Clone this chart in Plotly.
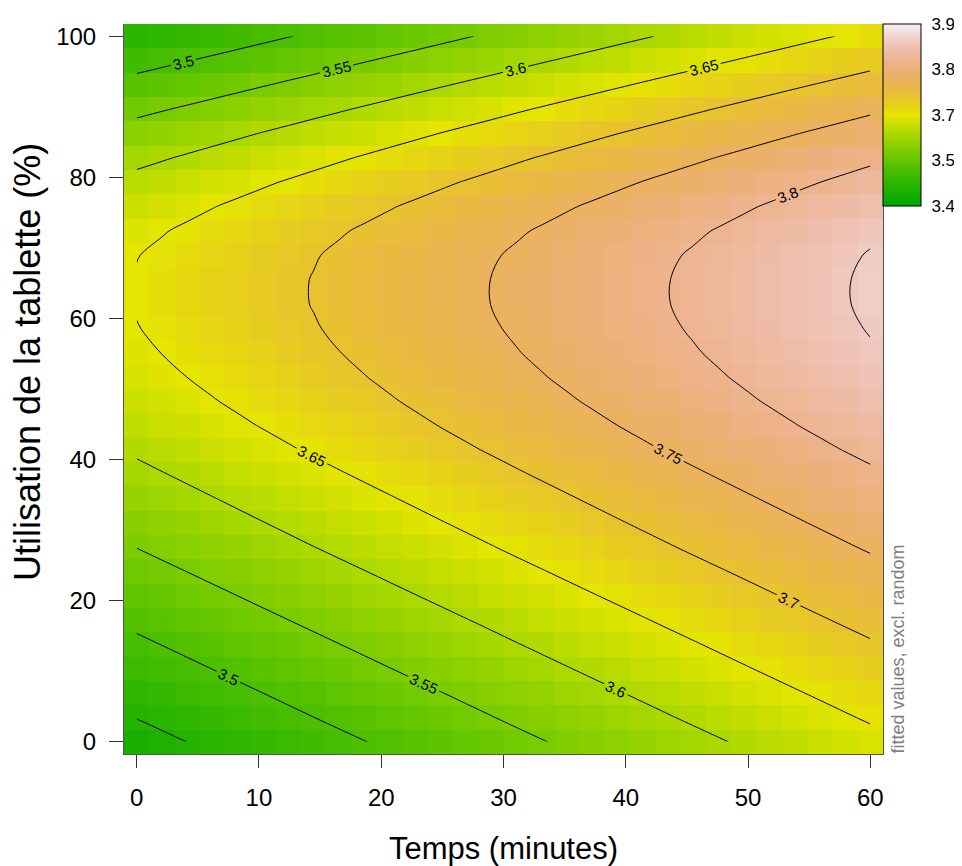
import colorsys
import plotly.graph_objects as go

# ---- data ----
time_grid = [0, 2.07, 4.14, 6.21, 8.28, 10.34, 12.41, 14.48, 16.55, 18.62,
             20.69, 22.76, 24.83, 26.90, 28.97, 31.03, 33.10, 35.17, 37.24, 39.31,
             41.38, 43.45, 45.52, 47.59, 49.66, 51.72, 53.79, 55.86, 57.93, 60]
usage_grid = [0, 3.45, 6.90, 10.34, 13.79, 17.24, 20.69, 24.14, 27.59, 31.03,
              34.48, 37.93, 41.38, 44.83, 48.28, 51.72, 55.17, 58.62, 62.07, 65.52,
              68.97, 72.41, 75.86, 79.31, 82.76, 86.21, 89.66, 93.10, 96.55, 100]
# fitted value at Temps = 0 for each usage grid row
fit_at_time0 = [3.4362, 3.4508, 3.4650, 3.4793, 3.4935, 3.5078, 3.5221, 3.5363, 3.5506, 3.5643,
                3.5779, 3.5915, 3.6049, 3.6168, 3.6273, 3.6362, 3.6435, 3.6489, 3.6522, 3.6522,
                3.6490, 3.6410, 3.6279, 3.6107, 3.5900, 3.5665, 3.5406, 3.5131, 3.4849, 3.4567]
# gain in fitted value relative to Temps = 0 for each time grid column
time_gain = [0.0000, 0.0070, 0.0140, 0.0210, 0.0280, 0.0350, 0.0420, 0.0490, 0.0560, 0.0630,
             0.0700, 0.0770, 0.0840, 0.0910, 0.0980, 0.1051, 0.1121, 0.1191, 0.1261, 0.1331,
             0.1401, 0.1471, 0.1541, 0.1611, 0.1681, 0.1751, 0.1821, 0.1891, 0.1961, 0.2031]

contour_start, contour_end, contour_step = 3.45, 3.85, 0.05
z_min, z_max = 3.4, 3.9
cbar_tickvals = [3.4, 3.525, 3.65, 3.775, 3.9]
cbar_ticktext = ["3.4", "3.5", "3.7", "3.8", "3.9"]
x_ticks = [0, 10, 20, 30, 40, 50, 60]
y_ticks = [0, 20, 40, 60, 80, 100]

# fitted-value table built from the two read profiles
z = [[a + g for g in time_gain] for a in fit_at_time0]


# ---- R terrain.colors palette ----
def terrain(t):
    if t <= 0.5:
        u = t / 0.5
        h = 4 / 12 + (2 / 12 - 4 / 12) * u
        s = 1.0
        v = 0.65 + 0.25 * u
    else:
        u = (t - 0.5) / 0.5
        h = 2 / 12 * (1 - u)
        s = 1 - u
        v = 0.9 + 0.05 * u
    r, g, b = colorsys.hsv_to_rgb(h, s, v)
    return "rgb(%d,%d,%d)" % (round(r * 255), round(g * 255), round(b * 255))


n_stops = 41
colorscale = [[i / (n_stops - 1), terrain(i / (n_stops - 1))] for i in range(n_stops)]

FONT = "Liberation Sans, Arial, Helvetica, sans-serif"

# layout geometry (page is offset by the 8px default body margin)
W, H = 954, 858
ML, MT = 116, 16
PW, PH = 759, 730
CB_LEN = 182 / PH
CB_W = 38 / PW

fig = go.Figure()
fig.add_trace(go.Heatmap(
    x=time_grid, y=usage_grid, z=z,
    zmin=z_min, zmax=z_max, colorscale=colorscale, zsmooth=False,
    colorbar=dict(
        x=1.0, xanchor="left", xpad=0, y=1.0, yanchor="top", ypad=0,
        len=CB_LEN, lenmode="fraction", thickness=38, thicknessmode="pixels",
        outlinewidth=1, outlinecolor="black",
        tickmode="array", tickvals=cbar_tickvals, ticktext=cbar_ticktext,
        ticks="outside", ticklen=7, tickwidth=1, tickcolor="rgba(0,0,0,0)",
        tickfont=dict(family=FONT, size=17, color="black"),
    ),
    hoverinfo="skip",
))
fig.add_trace(go.Contour(
    x=time_grid, y=usage_grid, z=z,
    autocontour=False,
    contours=dict(start=contour_start, end=contour_end, size=contour_step,
                  coloring="none", showlabels=True,
                  labelfont=dict(family=FONT, size=15, color="black"),
                  labelformat=".2~f"),
    line=dict(color="black", width=1),
    showscale=False, hoverinfo="skip",
))

# separator lines across the colour legend (quarters)
for k in (1, 2, 3):
    yy = 1 - k * CB_LEN / 4
    fig.add_shape(type="line", xref="paper", yref="paper",
                  x0=1.0, x1=1.0 + CB_W, y0=yy, y1=yy,
                  line=dict(color="black", width=1))

fig.add_annotation(
    text="fitted values, excl. random", textangle=-90,
    xref="paper", yref="paper", x=(897 - 124) / PW, y=0, yshift=-2,
    xanchor="center", yanchor="bottom", showarrow=False,
    font=dict(family=FONT, size=18, color="#808080"),
)
fig.add_annotation(
    text="Utilisation de la tablette (%)", textangle=-90,
    xref="paper", yref="paper", x=(27 - 124) / PW, y=(754 - 362) / PH,
    xanchor="center", yanchor="middle", showarrow=False,
    font=dict(family=FONT, size=36, color="black"),
)

fig.update_layout(
    width=W, height=H,
    margin=dict(l=ML, r=W - ML - PW, t=MT, b=H - MT - PH, pad=0, autoexpand=False),
    paper_bgcolor="white", plot_bgcolor="white",
    font=dict(family=FONT, color="black"),
    showlegend=False,
    xaxis=dict(
        range=[-1.0345, 61.0345], tickmode="array", tickvals=x_ticks,
        ticks="outside", ticklen=13, tickwidth=1, tickcolor="#333",
        ticklabelstandoff=9,
        showline=True, linecolor="#555", linewidth=1, mirror=False,
        showgrid=False, zeroline=False,
        tickfont=dict(family=FONT, size=24, color="black"),
        title=dict(text="Temps (minutes)", font=dict(family=FONT, size=31, color="black"), standoff=30),
        automargin=False,
    ),
    yaxis=dict(
        range=[-1.7241, 101.7241], tickmode="array", tickvals=y_ticks,
        ticks="outside", ticklen=14, tickwidth=1, tickcolor="#333",
        ticklabelstandoff=8,
        showline=True, linecolor="#555", linewidth=1, mirror=True,
        showgrid=False, zeroline=False,
        tickfont=dict(family=FONT, size=24, color="black"),
        automargin=False,
    ),
)

fig.write_html("out.html")
